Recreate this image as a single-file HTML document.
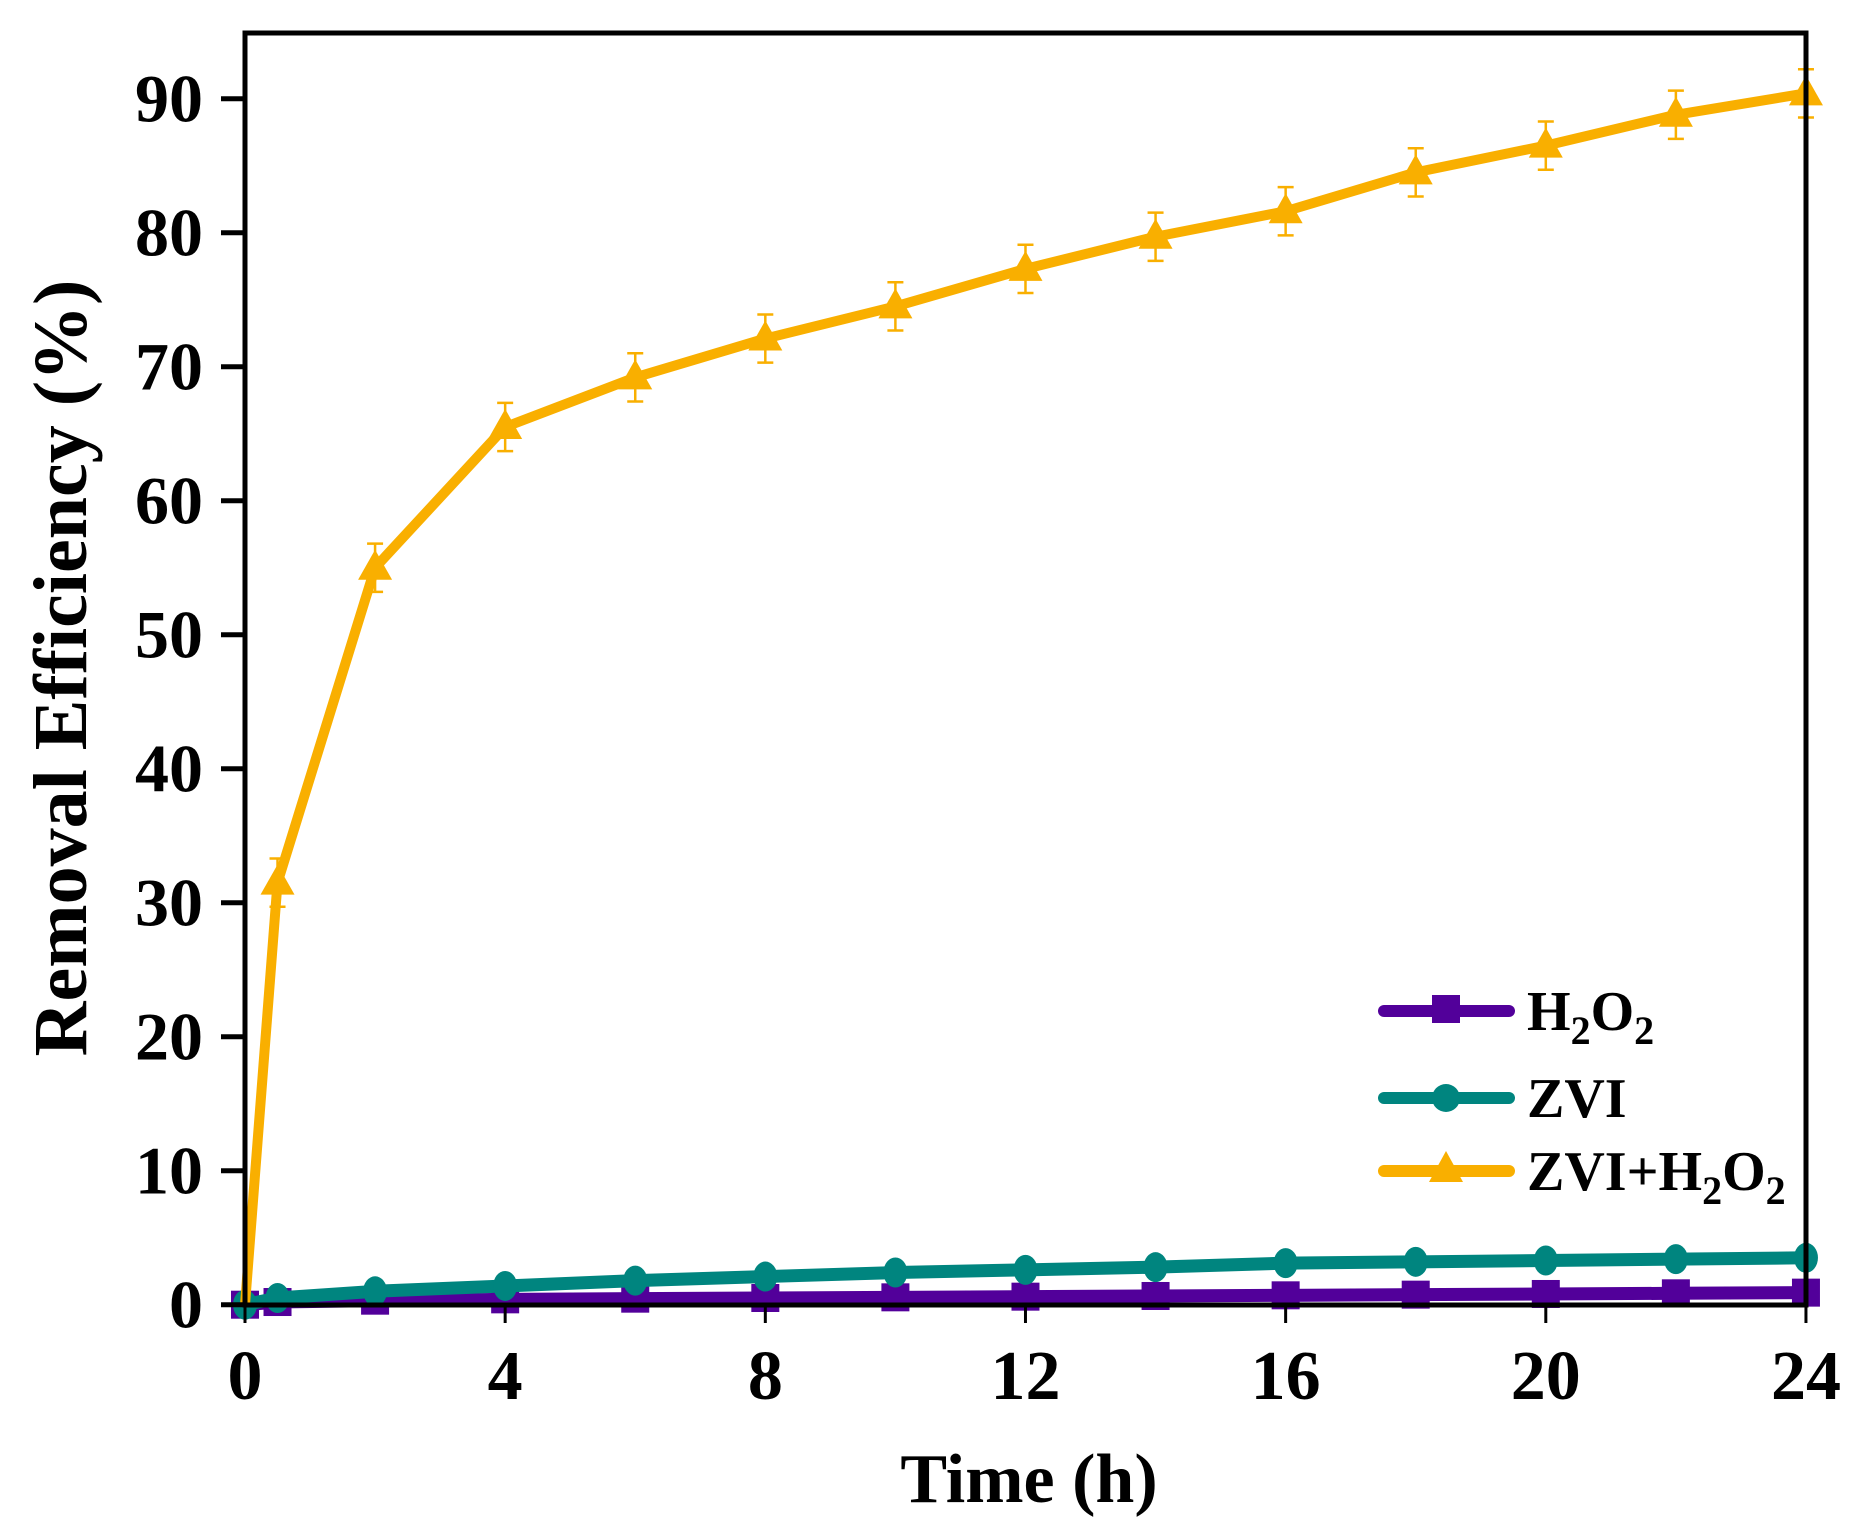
<!DOCTYPE html>
<html><head><meta charset="utf-8"><style>
html,body{margin:0;padding:0;background:#fff;}
svg{display:block;}
text{font-family:"Liberation Serif","Times New Roman",serif;font-weight:bold;}
</style></head><body>
<svg width="1862" height="1526" viewBox="0 0 1862 1526" xmlns="http://www.w3.org/2000/svg" font-family="Liberation Serif, serif" font-weight="bold">
<rect width="1862" height="1526" fill="#fff"/>
<g id="plot"></g>
<text x="1527" y="1030" font-size="56">H<tspan dy="14" font-size="40">2</tspan><tspan dy="-14">O</tspan><tspan dy="14" font-size="40">2</tspan></text>
<text x="1527" y="1117" font-size="56">ZVI</text>
<text x="1527" y="1190" font-size="56">ZVI+H<tspan dy="14" font-size="40">2</tspan><tspan dy="-14">O</tspan><tspan dy="14" font-size="40">2</tspan></text>
<text x="1029" y="1502" text-anchor="middle" font-size="70">Time (h)</text>
<text transform="translate(86,668) rotate(-90)" text-anchor="middle" font-size="76">Removal Efficiency (%)</text>
<script>
var X=function(h){return 245+h*65.04;}, Y=function(v){return 1304.7-v*13.4;};
var NS="http://www.w3.org/2000/svg", g=document.getElementById('plot');
function el(t,a,txt){var e=document.createElementNS(NS,t);for(var k in a)e.setAttribute(k,a[k]);if(txt!==undefined)e.textContent=txt;g.appendChild(e);return e;}
var hrs=[0,0.5,2,4,6,8,10,12,14,16,18,20,22,24];
var A=[0,31.5,55,65.5,69.2,72.1,74.5,77.3,79.7,81.6,84.5,86.5,88.8,90.4];
var Z=[0,0.5,1,1.4,1.8,2.1,2.4,2.6,2.8,3.1,3.2,3.3,3.4,3.5];
var H=[0,0.2,0.3,0.4,0.45,0.5,0.55,0.6,0.65,0.7,0.75,0.8,0.85,0.9];
function pts(d){return hrs.map(function(h,i){return X(h)+","+Y(d[i]);}).join(" ");}
el('polyline',{points:pts(H),fill:'none',stroke:'#52009A','stroke-width':13,'stroke-linejoin':'round'});
hrs.forEach(function(h,i){el('rect',{x:X(h)-14,y:Y(H[i])-14,width:28,height:28,fill:'#52009A'});});
el('polyline',{points:pts(Z),fill:'none',stroke:'#00857F','stroke-width':13,'stroke-linejoin':'round'});
hrs.forEach(function(h,i){el('ellipse',{cx:X(h),cy:Y(Z[i]),rx:12,ry:15,fill:'#00857F'});});
el('polyline',{points:pts(A),fill:'none',stroke:'#F9AF00','stroke-width':10,'stroke-linejoin':'round'});
hrs.forEach(function(h,i){if(i==0)return;var x=X(h),y=Y(A[i]),e=1.8;
 el('path',{d:'M'+x+' '+Y(A[i]+e)+'V'+Y(A[i]-e)+'M'+(x-8)+' '+Y(A[i]+e)+'H'+(x+8)+'M'+(x-8)+' '+Y(A[i]-e)+'H'+(x+8),stroke:'#F9AF00','stroke-width':2.5,fill:'none'});
 el('polygon',{points:x+','+(y-18)+' '+(x-17)+','+(y+12)+' '+(x+17)+','+(y+12),fill:'#F9AF00'});});
el('rect',{x:245,y:33,width:1561,height:1272,fill:'none',stroke:'#000','stroke-width':5});
for(var v=0;v<=90;v+=10){el('line',{x1:221,x2:245,y1:Y(v),y2:Y(v),stroke:'#000','stroke-width':5});
 el('text',{x:203,y:Y(v)+23,'text-anchor':'end','font-size':68},String(v));}
for(var h=0;h<=24;h+=4){el('line',{x1:X(h),x2:X(h),y1:1305,y2:1323,stroke:'#000','stroke-width':3});
 el('text',{x:X(h),y:1399,'text-anchor':'middle','font-size':70},String(h));}
var L=[[1011,'#52009A','sq'],[1098,'#00857F','ci'],[1171,'#F9AF00','tr']];
L.forEach(function(l){el('line',{x1:1384,x2:1509,y1:l[0],y2:l[0],stroke:l[1],'stroke-width':12,'stroke-linecap':'round'});
 var cx=1446,cy=l[0];
 if(l[2]=='sq')el('rect',{x:cx-14,y:cy-16,width:28,height:28,fill:l[1]});
 if(l[2]=='ci')el('circle',{cx:cx,cy:cy,r:14,fill:l[1]});
 if(l[2]=='tr')el('polygon',{points:cx+','+(cy-20)+' '+(cx-17)+','+(cy+11)+' '+(cx+17)+','+(cy+11),fill:l[1]});});
</script>
</svg>
</body></html>
